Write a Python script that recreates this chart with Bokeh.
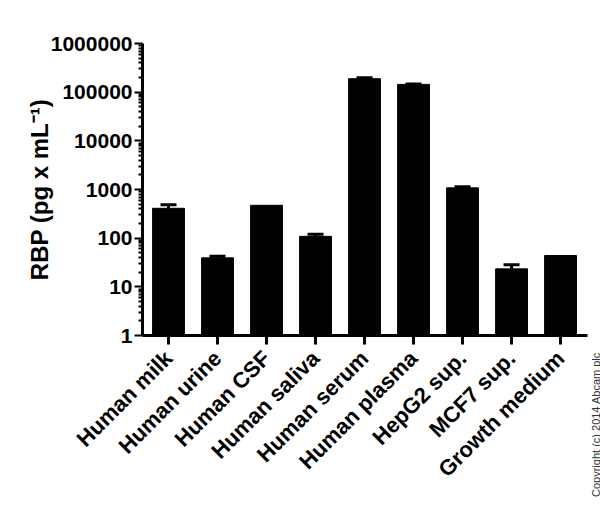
import math
from bokeh.plotting import figure
from bokeh.layouts import row
from bokeh.models import (FixedTicker, PrintfTickFormatter, Range1d, Whisker,
                          ColumnDataSource, TeeHead, Div)
from bokeh.embed import file_html
from bokeh.resources import INLINE

# ---- data ----
categories = ["Human milk", "Human urine", "Human CSF", "Human saliva", "Human serum",
              "Human plasma", "HepG2 sup.", "MCF7 sup.", "Growth medium"]
values = [411, 39.4, 474, 109, 189000, 144500, 1080, 23.4, 44]
errors = [74, 2.9, 0, 11, 8000, 3500, 56, 5, 0]
y_ticks = [1, 10, 100, 1000, 10000, 100000, 1000000]
copyright_text = "Copyright (c) 2014 Abcam plc"

xs = list(range(1, len(categories) + 1))
FONT = "Liberation Sans"

p = figure(frame_width=445, frame_height=292, width=590, height=507,
           min_border_left=142, min_border_right=3, min_border_top=43, min_border_bottom=172,
           y_axis_type="log", x_range=Range1d(0.469, 9.55), y_range=Range1d(1, 1000000),
           output_backend="svg", toolbar_location=None)
p.outline_line_color = None
p.xgrid.visible = False
p.ygrid.visible = False
p.background_fill_color = "white"
p.border_fill_color = "white"

src = ColumnDataSource(dict(x=xs, top=values))
p.vbar(x="x", top="top", bottom=1, width=0.65, source=src,
       fill_color="black", line_color="black")

ex = [x for x, e in zip(xs, errors) if e > 0]
lo = [v for v, e in zip(values, errors) if e > 0]
hi = [v + e for v, e in zip(values, errors) if e > 0]
esrc = ColumnDataSource(dict(x=ex, lower=lo, upper=hi))
p.add_layout(Whisker(base="x", lower="lower", upper="upper", source=esrc,
                     upper_head=TeeHead(size=16, line_width=3, line_color="black"),
                     lower_head=None, line_width=3, line_color="black"))

# y axis
minor = [k * 10 ** n for n in range(0, 6) for k in range(2, 10)]
p.yaxis.ticker = FixedTicker(ticks=y_ticks, minor_ticks=minor)
p.yaxis.formatter = PrintfTickFormatter(format="%d")
p.yaxis.axis_line_width = 3
p.yaxis.major_tick_line_width = 2
p.yaxis.minor_tick_line_width = 2
p.yaxis.major_tick_out = 8
p.yaxis.major_tick_in = 0
p.yaxis.minor_tick_out = 4
p.yaxis.minor_tick_in = 0
p.yaxis.major_label_standoff = 2
p.yaxis.major_label_text_font = FONT
p.yaxis.major_label_text_font_style = "bold"
p.yaxis.major_label_text_font_size = "21px"
p.yaxis.major_label_text_color = "black"
p.yaxis.axis_label = "RBP (pg x mL\u207b\u00b9)"
p.yaxis.axis_label_text_font = FONT
p.yaxis.axis_label_text_font_style = "bold"
p.yaxis.axis_label_text_font_size = "24px"
p.yaxis.axis_label_text_color = "black"
p.yaxis.axis_label_standoff = -5

# x axis
p.xaxis.ticker = FixedTicker(ticks=xs)
p.xaxis.major_label_overrides = {x: c for x, c in zip(xs, categories)}
p.xaxis.major_label_orientation = math.pi / 4
p.xaxis.axis_line_width = 3
p.xaxis.major_tick_line_width = 3
p.xaxis.major_tick_out = 9
p.xaxis.major_tick_in = 0
p.xaxis.minor_tick_line_color = None
p.xaxis.major_label_standoff = 10
p.xaxis.major_label_text_font = FONT
p.xaxis.major_label_text_font_style = "bold"
p.xaxis.major_label_text_font_size = "22px"
p.xaxis.major_label_text_color = "black"

# narrow side strip carrying the copyright note (reads bottom to top)
note = Div(text=copyright_text, width=10, height=507,
           styles={"writing-mode": "vertical-rl",
                   "transform": "translate(-4px, -8px) rotate(180deg)",
                   "font-family": FONT, "font-size": "11px", "color": "#333333",
                   "white-space": "nowrap", "line-height": "10px",
                   "padding-top": "7px", "box-sizing": "border-box",
                   "overflow": "visible"})

layout = row(p, note, spacing=0)
open("out.html", "w").write(file_html(layout, INLINE))
